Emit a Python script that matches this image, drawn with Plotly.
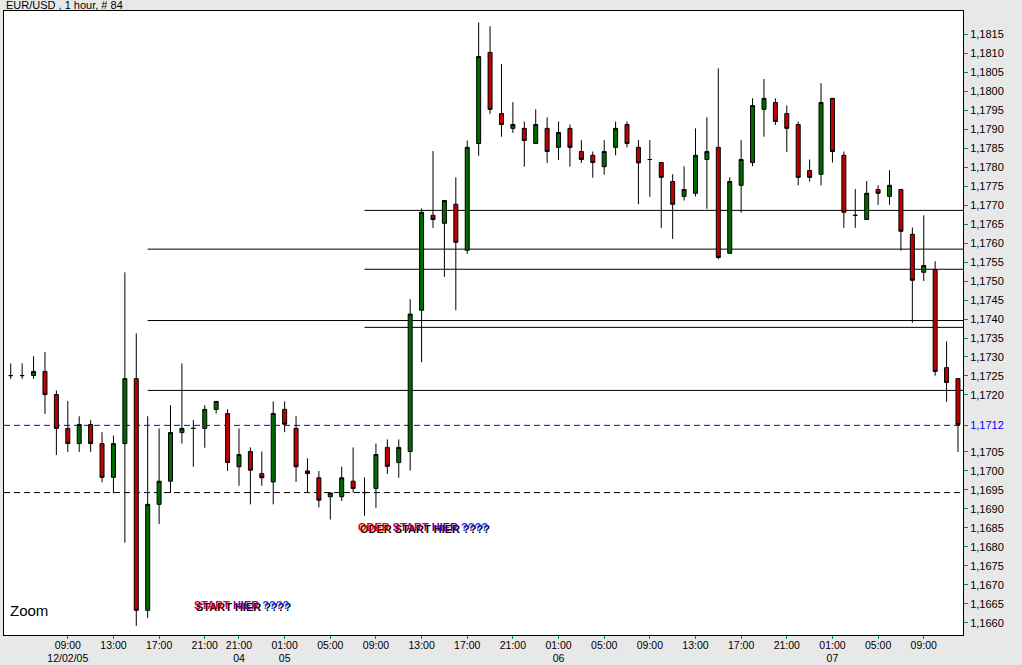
import plotly.graph_objects as go

# ---- data (hourly EUR/USD candles, index 0 = Fri 12/02/05 04:00) ----
opens = [1.17251, 1.17251, 1.17251, 1.17262, 1.17201, 1.17112, 1.17072, 1.17122, 1.17072, 1.16983,
         1.17072, 1.17243, 1.16633, 1.16912, 1.16973, 1.17101, 1.17112, 1.17112, 1.17162, 1.17151,
         1.17011, 1.17051, 1.16993, 1.16971, 1.17162, 1.17112, 1.17000, 1.16982, 1.16932, 1.16932,
         1.16973, 1.16943, 1.16954, 1.17062, 1.17022, 1.17051, 1.17423, 1.17673, 1.17652, 1.17702,
         1.17581, 1.17862, 1.18102, 1.17941, 1.17902, 1.17902, 1.17862, 1.17902, 1.17852, 1.17902,
         1.17841, 1.17831, 1.17801, 1.17852, 1.17912, 1.17852, 1.17820, 1.17812, 1.17762, 1.17723,
         1.17731, 1.17820, 1.17852, 1.17573, 1.17752, 1.17812, 1.17952, 1.17970, 1.17941, 1.17912,
         1.17791, 1.17781, 1.17981, 1.17831, 1.17673, 1.17662, 1.17741, 1.17723, 1.17741, 1.17623,
         1.17523, 1.17530, 1.17272, 1.17243]
highs = [1.17283, 1.17283, 1.17302, 1.17313, 1.17212, 1.17184, 1.17144, 1.17134, 1.17102, 1.17093,
         1.17523, 1.17362, 1.17144, 1.17112, 1.17173, 1.17283, 1.17134, 1.17173, 1.17183, 1.17162,
         1.17112, 1.17062, 1.17051, 1.17183, 1.17183, 1.17144, 1.17033, 1.17000, 1.16942, 1.17011,
         1.17062, 1.16983, 1.17072, 1.17083, 1.17083, 1.17452, 1.17691, 1.17842, 1.17712, 1.17773,
         1.17870, 1.18181, 1.18171, 1.18071, 1.17971, 1.17920, 1.17952, 1.17931, 1.17920, 1.17912,
         1.17871, 1.17841, 1.17871, 1.17920, 1.17920, 1.17871, 1.17871, 1.17812, 1.17781, 1.17802,
         1.17902, 1.17931, 1.18060, 1.17773, 1.17871, 1.17981, 1.18032, 1.17981, 1.17962, 1.17920,
         1.17820, 1.18021, 1.17981, 1.17841, 1.17742, 1.17763, 1.17752, 1.17792, 1.17741, 1.17641,
         1.17673, 1.17552, 1.17341, 1.17243]
lows = [1.17242, 1.17242, 1.17242, 1.17150, 1.17042, 1.17050, 1.17050, 1.17050, 1.16970, 1.16942,
        1.16811, 1.16592, 1.16613, 1.16860, 1.16942, 1.17072, 1.17011, 1.17061, 1.17151, 1.17000,
        1.16961, 1.16912, 1.16961, 1.16912, 1.17102, 1.16971, 1.16942, 1.16904, 1.16872, 1.16921,
        1.16943, 1.16882, 1.16903, 1.16992, 1.16982, 1.17001, 1.17286, 1.17640, 1.17511, 1.17423,
        1.17572, 1.17830, 1.17940, 1.17880, 1.17890, 1.17801, 1.17862, 1.17811, 1.17819, 1.17801,
        1.17811, 1.17772, 1.17780, 1.17831, 1.17852, 1.17702, 1.17722, 1.17640, 1.17611, 1.17712,
        1.17723, 1.17690, 1.17557, 1.17573, 1.17680, 1.17802, 1.17880, 1.17911, 1.17840, 1.17752,
        1.17762, 1.17752, 1.17812, 1.17640, 1.17640, 1.17662, 1.17701, 1.17701, 1.17580, 1.17390,
        1.17500, 1.17251, 1.17182, 1.17050]
closes = [1.17251, 1.17251, 1.17262, 1.17201, 1.17112, 1.17072, 1.17122, 1.17072, 1.16983, 1.17072,
          1.17243, 1.16633, 1.16912, 1.16973, 1.17101, 1.17112, 1.17112, 1.17162, 1.17183, 1.17022,
          1.17043, 1.17002, 1.16982, 1.17151, 1.17123, 1.17011, 1.16993, 1.16923, 1.16942, 1.16982,
          1.16954, 1.16943, 1.17043, 1.17012, 1.17062, 1.17413, 1.17681, 1.17662, 1.17712, 1.17602,
          1.17852, 1.18091, 1.17952, 1.17912, 1.17912, 1.17870, 1.17912, 1.17841, 1.17891, 1.17852,
          1.17820, 1.17812, 1.17841, 1.17902, 1.17862, 1.17811, 1.17820, 1.17773, 1.17702, 1.17741,
          1.17831, 1.17841, 1.17562, 1.17762, 1.17820, 1.17962, 1.17981, 1.17920, 1.17902, 1.17773,
          1.17773, 1.17970, 1.17841, 1.17681, 1.17673, 1.17731, 1.17731, 1.17752, 1.17631, 1.17502,
          1.17541, 1.17262, 1.17233, 1.17122]

x_tick_pos = [5, 9, 13, 17, 20, 24, 28, 32, 36, 40, 44, 48, 52, 56, 60, 64, 68, 72, 76, 80]
x_tick_labels = ["09:00<br>12/02/05", "13:00", "17:00", "21:00", "21:00<br>04", "01:00<br>05",
                 "05:00", "09:00", "13:00", "17:00", "21:00", "01:00<br>06", "05:00", "09:00",
                 "13:00", "17:00", "21:00", "01:00<br>07", "05:00", "09:00"]

y_tick_vals = [1.1660, 1.1665, 1.1670, 1.1675, 1.1680, 1.1685, 1.1690, 1.1695, 1.1700, 1.1705,
               1.1712, 1.1720, 1.1725, 1.1730, 1.1735, 1.1740, 1.1745, 1.1750, 1.1755, 1.1760,
               1.1765, 1.1770, 1.1775, 1.1780, 1.1785, 1.1790, 1.1795, 1.1800, 1.1805, 1.1810, 1.1815]
y_tick_labels = ["1,1660", "1,1665", "1,1670", "1,1675", "1,1680", "1,1685", "1,1690", "1,1695",
                 "1,1700", "1,1705", '<span style="color:#0000ff">1,1712</span>', "1,1720", "1,1725",
                 "1,1730", "1,1735", "1,1740", "1,1745", "1,1750", "1,1755", "1,1760", "1,1765",
                 "1,1770", "1,1775", "1,1780", "1,1785", "1,1790", "1,1795", "1,1800", "1,1805",
                 "1,1810", "1,1815"]

# support / resistance levels: (price, starting candle index)
level_prices = [1.17686, 1.17584, 1.17531, 1.17396, 1.17378, 1.17212]
level_starts = [31, 12, 31, 12, 31, 12]
blue_level = 1.1712
black_dashed_level = 1.16943

# annotation texts: words and their colours
start_words = ["START", "HIER", "????"]
start_colors = ["#d0003a", "#80008a", "#2a2aff"]
oder_words = ["ODER", "START", "HIER", "????"]
oder_colors = ["#ee0000", "#b0005a", "#6a00a8", "#2a2aff"]

x_range = [-0.59, 83.44]
y_range = [1.16568, 1.18211]

xs = list(range(len(opens)))

fig = go.Figure()
fig.add_trace(go.Candlestick(
    x=xs, open=opens, high=highs, low=lows, close=closes,
    increasing=dict(fillcolor="#006a00", line=dict(color="black", width=1)),
    decreasing=dict(fillcolor="#c00000", line=dict(color="black", width=1)),
    whiskerwidth=0, hoverinfo="skip", showlegend=False,
))

shapes = []
for p, s in zip(level_prices, level_starts):
    shapes.append(dict(type="line", xref="x", yref="y", x0=s, x1=x_range[1], y0=p, y1=p,
                       line=dict(color="black", width=1), layer="below"))
shapes.append(dict(type="line", xref="x", yref="y", x0=x_range[0], x1=x_range[1],
                   y0=blue_level, y1=blue_level,
                   line=dict(color="#0000ff", width=1, dash="6px,4px"), layer="below"))
shapes.append(dict(type="line", xref="x", yref="y", x0=x_range[0], x1=x_range[1],
                   y0=black_dashed_level, y1=black_dashed_level,
                   line=dict(color="black", width=1, dash="6px,4px"), layer="below"))


def colored(words, colors):
    return " ".join('<span style="color:%s">%s</span>' % (c, w) for w, c in zip(words, colors))


annotations = []
texts = [(start_words, start_colors, 15.86, 1.16647), (oder_words, oder_colors, 30.26, 1.16853)]
for words, colors, xi, yp in texts:
    annotations.append(dict(x=xi, y=yp, xref="x", yref="y", text=colored(words, colors),
                            showarrow=False, xanchor="left", yanchor="middle",
                            font=dict(family="Liberation Sans", size=11, color="red",
                                      weight="bold", shadow="2px 2px 0px #000000")))

annotations.append(dict(x=0, y=1, xref="paper", yref="paper", text="EUR/USD , 1 hour, # 84",
                        showarrow=False, xanchor="left", yanchor="bottom", xshift=0, yshift=-2,
                        font=dict(family="Liberation Sans", size=11, color="black")))
annotations.append(dict(x=0, y=0, xref="paper", yref="paper", text="Zoom",
                        showarrow=False, xanchor="left", yanchor="middle", xshift=4, yshift=25,
                        font=dict(family="Liberation Sans", size=15, color="black")))

fig.update_layout(
    width=1022, height=665,
    margin=dict(l=4, r=59, t=11, b=30, autoexpand=False),
    paper_bgcolor="#e8e8e8", plot_bgcolor="white",
    boxgap=0.5,
    shapes=shapes, annotations=annotations,
    showlegend=False,
    font=dict(family="Liberation Sans", size=11, color="black"),
    xaxis=dict(range=x_range, tickmode="array", tickvals=x_tick_pos, ticktext=x_tick_labels,
               ticks="outside", ticklen=3, tickcolor="#008080", showgrid=False, zeroline=False,
               showline=True, linecolor="black", linewidth=1, mirror=True, automargin=False,
               ticklabelstandoff=-3,
               rangeslider=dict(visible=False), tickfont=dict(size=10.5)),
    yaxis=dict(range=y_range, side="right", tickmode="array", tickvals=y_tick_vals,
               ticktext=y_tick_labels, ticks="outside", ticklen=4, tickcolor="#008080",
               showgrid=False, zeroline=False, showline=True, linecolor="black", linewidth=1,
               mirror=True, automargin=False, tickfont=dict(size=11)),
)

fig.write_html("out.html",
               config={"displayModeBar": False},
               post_script="document.body.style.margin='0px';"
                           "document.body.style.background='#e8e8e8';")
